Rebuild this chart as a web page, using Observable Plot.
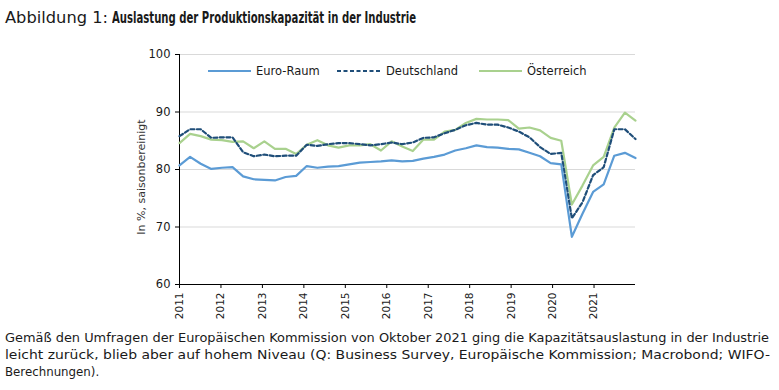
<!DOCTYPE html>
<html>
<head>
<meta charset="utf-8">
<script src="https://cdn.jsdelivr.net/npm/d3@7"></script>
<script src="https://cdn.jsdelivr.net/npm/@observablehq/plot@0.6"></script>
<style>
  html, body { margin: 0; padding: 0; background: #fff; }
  #wrap { position: relative; width: 779px; height: 390px; overflow: hidden; font-family: "DejaVu Sans", sans-serif; color: #1a1a1a; }
  #wrap svg { position: absolute; left: 0; top: 0; }
  .abs { position: absolute; white-space: nowrap; }
  #t1 { left: 5px; top: 8px; font-size: 15px; line-height: 20px; }
  #t2 { left: 112px; top: 8px; font-size: 15px; line-height: 20px; font-weight: bold; transform-origin: 0 50%; }
  #ylabel { left: 141px; top: 177px; font-size: 11px; transform: translate(-50%, -50%) rotate(-90deg); color: #333; }
  .cap { left: 5px; font-size: 11.8px; line-height: 16px; display: inline-block; transform-origin: 0 50%; }
  .leg { font-size: 11.5px; line-height: 14px; top: 64px; }
</style>
</head>
<body>
<div id="wrap">
  <div id="t1" class="abs">Abbildung 1:</div>
  <div id="t2" class="abs">Auslastung der Produktionskapazität in der Industrie</div>
  <div id="ylabel" class="abs">In %, saisonbereinigt</div>
  <div id="legend"></div>
  <div id="c1" class="abs cap" style="top:330px">Gemäß den Umfragen der Europäischen Kommission von Oktober 2021 ging die Kapazitätsauslastung in der Industrie</div>
  <div id="c2" class="abs cap" style="top:347px">leicht zurück, blieb aber auf hohem Niveau (Q: Business Survey, Europäische Kommission; Macrobond; WIFO-</div>
  <div id="c3" class="abs cap" style="top:364px">Berechnungen).</div>
</div>
<script>
// Quarterly values 2011 Q1 – 2021 Q4 (44 quarters)
const euroRaum = [80.7,82.2,81.0,80.1,80.3,80.4,78.8,78.3,78.2,78.1,78.7,78.9,80.6,80.3,80.5,80.6,80.9,81.2,81.3,81.4,81.6,81.4,81.5,81.9,82.2,82.6,83.3,83.7,84.2,83.9,83.8,83.6,83.5,82.9,82.3,81.1,80.9,68.3,72.3,76.1,77.4,82.4,82.9,82.0];
const deutschland = [85.8,87.0,87.0,85.5,85.6,85.6,83.0,82.3,82.6,82.3,82.4,82.4,84.3,84.1,84.4,84.6,84.6,84.4,84.2,84.4,84.7,84.4,84.7,85.5,85.6,86.3,86.9,87.7,88.1,87.8,87.8,87.3,86.6,85.6,83.9,82.7,82.9,71.5,74.3,79.0,80.4,87.0,87.0,85.3];
const oesterreich = [84.6,86.2,85.8,85.2,85.1,84.8,84.9,83.7,84.9,83.6,83.6,82.7,84.3,85.1,84.2,83.8,84.2,84.2,84.4,83.3,84.9,84.0,83.2,85.2,85.2,86.6,86.9,88.1,88.8,88.7,88.7,88.6,87.1,87.3,86.8,85.5,85.0,73.9,77.2,80.7,82.2,87.3,89.9,88.5];
const yearLabels = ["2011","2012","2013","2014","2015","2016","2017","2018","2019","2020","2021"];
const yTicks = [60,70,80,90,100];
const seriesNames = ["Euro-Raum","Deutschland","Österreich"];
const seriesColors = ["#5b9bd5","#1f4e79","#a9d18e"];

const n = euroRaum.length;
const last = n - 1;
// category axis: year labels spread over the full span of the points
const yearTicks = yearLabels.map((_, k) => k * last / yearLabels.length);
const fmt = d => yearLabels[Math.round(d * yearLabels.length / last)];

const rows = [];
[euroRaum, deutschland, oesterreich].forEach((arr, s) => arr.forEach((v, i) => rows.push({i, v, s: seriesNames[s]})));

const chart = Plot.plot({
  width: 779,
  height: 320,
  marginTop: 54,
  marginBottom: 36,
  marginLeft: 179,
  marginRight: 144,
  style: {fontFamily: "DejaVu Sans, sans-serif", fontSize: "11px", color: "#1a1a1a", background: "transparent"},
  x: {domain: [0, last]},
  y: {domain: [60, 100]},
  marks: [
    Plot.gridY(yTicks.filter(d => d > 60), {stroke: "#d9d9d9", strokeOpacity: 1}),
    Plot.axisY(yTicks, {tickSize: 4, tickPadding: 5, fontSize: 11.5, label: null, stroke: "#000"}),
    Plot.axisX(yearTicks, {tickFormat: fmt, tickRotate: -90, tickSize: 4, tickPadding: 4, fontSize: 10.5, label: null, stroke: "#000"}),
    Plot.ruleX([0], {stroke: "#000"}),
    Plot.ruleY([60], {stroke: "#000"}),
    Plot.line(rows.filter(r => r.s === seriesNames[2]), {x: "i", y: "v", stroke: seriesColors[2], strokeWidth: 2.2}),
    Plot.line(rows.filter(r => r.s === seriesNames[1]), {x: "i", y: "v", stroke: seriesColors[1], strokeWidth: 2.2, strokeDasharray: "4,2.5"}),
    Plot.line(rows.filter(r => r.s === seriesNames[0]), {x: "i", y: "v", stroke: seriesColors[0], strokeWidth: 2.2})
  ]
});
document.getElementById("wrap").prepend(chart);

// legend (inside the plot area)
const legendPos = [{sw: 208, w: 43, tx: 256}, {sw: 337, w: 45, tx: 386}, {sw: 479, w: 43, tx: 527}];
const lg = document.getElementById("legend");
seriesNames.forEach((name, k) => {
  const p = legendPos[k];
  const sw = document.createElementNS("http://www.w3.org/2000/svg", "svg");
  sw.setAttribute("width", p.w); sw.setAttribute("height", 6);
  sw.style.position = "absolute"; sw.style.left = p.sw + "px"; sw.style.top = "68px";
  const l = document.createElementNS("http://www.w3.org/2000/svg", "line");
  l.setAttribute("x1", 0); l.setAttribute("x2", p.w); l.setAttribute("y1", 3); l.setAttribute("y2", 3);
  l.setAttribute("stroke", seriesColors[k]); l.setAttribute("stroke-width", 2.2);
  if (k === 1) l.setAttribute("stroke-dasharray", "4,2.5");
  sw.appendChild(l); lg.appendChild(sw);
  const t = document.createElement("div");
  t.className = "abs leg"; t.style.left = p.tx + "px"; t.textContent = name;
  lg.appendChild(t);
});

// fit text blocks to their widths in the reference
function fitTo(el, w) {
  const cur = el.getBoundingClientRect().width;
  if (cur > 0) el.style.transform = `scaleX(${w / cur})`;
}
function fitSize(el, w) {
  const cur = el.getBoundingClientRect().width;
  const fs = parseFloat(getComputedStyle(el).fontSize);
  if (cur > 0) el.style.fontSize = (fs * w / cur) + "px";
}
fitSize(document.getElementById("t1"), 103);
fitTo(document.getElementById("t2"), 304);
fitTo(document.getElementById("c1"), 764);
fitTo(document.getElementById("c2"), 765);
</script>
</body>
</html>
